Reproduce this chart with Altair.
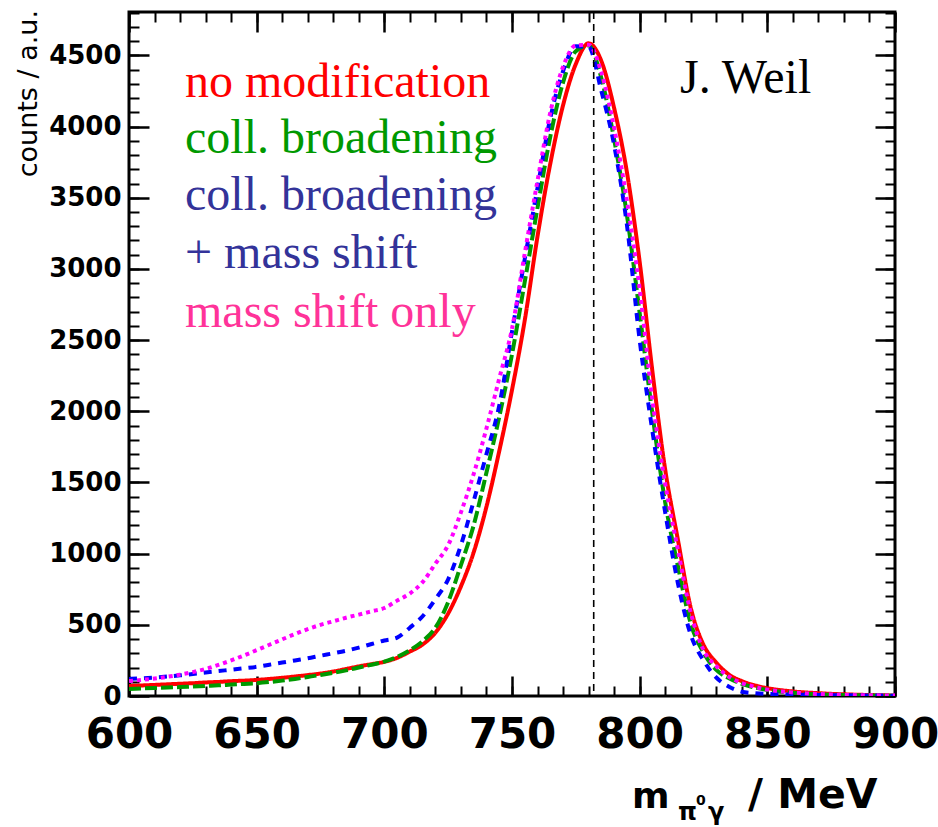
import altair as alt
import pandas as pd

# ---- data (counts per 5 MeV grid point) ----
mass = list(range(600, 901, 5))

no_modification = [70, 74, 78, 82, 86, 90, 95, 99, 104, 108,
                   113, 120, 128, 137, 147, 158, 172, 190, 208, 224,
                   240, 268, 312, 362, 445, 580, 770, 1010, 1330, 1720,
                   2150, 2640, 3230, 3740, 4150, 4440, 4585, 4460, 4130, 3680,
                   3050, 2280, 1590, 1095, 620, 360, 235, 150, 105, 75,
                   55, 42, 32, 25, 20, 15, 12, 9, 7, 5, 4]

coll_broadening = [50, 53, 56, 60, 63, 67, 71, 75, 80, 85,
                   90, 98, 108, 120, 133, 148, 163, 180, 200, 220,
                   242, 275, 322, 385, 480, 660, 920, 1200, 1570, 1960,
                   2400, 2910, 3430, 3930, 4310, 4530, 4570, 4340, 3910, 3380,
                   2690, 1980, 1360, 910, 510, 305, 183, 125, 85, 60,
                   42, 30, 22, 16, 12, 9, 7, 5, 4, 3, 2]

coll_broadening_mass_shift = [120, 124, 130, 137, 145, 155, 165, 175, 185, 195,
                              205, 220, 235, 250, 265, 283, 300, 318, 340, 365,
                              390, 410, 480, 560, 680, 820, 1060, 1370, 1700, 2040,
                              2560, 3070, 3570, 4060, 4390, 4565, 4560, 4250, 3870, 3310,
                              2500, 1860, 1290, 790, 430, 250, 130, 65, 30, 20,
                              15, 12, 10, 8, 7, 6, 5, 4, 3, 3, 2]

mass_shift_only = [105, 113, 123, 135, 150, 168, 190, 218, 250, 285,
                   322, 360, 398, 435, 470, 500, 525, 550, 572, 595,
                   618, 670, 720, 800, 930, 1060, 1290, 1560, 1880, 2230,
                   2580, 3110, 3620, 4100, 4420, 4570, 4575, 4380, 3990, 3480,
                   2860, 2080, 1490, 1025, 585, 323, 210, 135, 91, 65,
                   45, 33, 25, 19, 14, 11, 8, 6, 5, 4, 3]

series_values = [no_modification, coll_broadening, coll_broadening_mass_shift, mass_shift_only]
line_colors = ["#ff0000", "#009900", "#0000ff", "#ff00ff"]
line_dashes = [[1, 0], [12, 4], [8, 7], [4, 4]]

legend_lines = ["no modification", "coll. broadening", "coll. broadening", "+ mass shift", "mass shift only"]
legend_colors = ["#ff0000", "#009900", "#333399", "#333399", "#ff3399"]

omega_mass = [782]

x_major = list(range(600, 901, 50))
x_minor = list(range(600, 901, 10))
y_major = list(range(0, 4501, 500))
y_minor = list(range(0, 4801, 100))

W, H = 766, 684
xs = alt.Scale(domain=[600, 900], nice=False, zero=False)
ys = alt.Scale(domain=[0, 4805], nice=False, zero=False)


def tick_axis(orient, values, size, labels, font_size=27, pad=8):
    kw = dict(orient=orient, values=values, tickSize=size, offset=-size,
              domain=False, grid=False, labels=labels, title=None,
              tickColor="black", tickWidth=2.5 if size > 12 else 2)
    if labels:
        kw.update(labelFont="DejaVu Sans", labelFontWeight="bold",
                  labelFontSize=font_size, labelColor="black", format="d",
                  labelPadding=pad, labelFlush=False, labelOverlap=False)
    return alt.Axis(**kw)


axes_pairs = [
    (tick_axis("bottom", x_major, 20, True, 42, 18), tick_axis("left", y_major, 20, True, 26, 8)),
    (tick_axis("bottom", x_minor, 10, False), tick_axis("left", y_minor, 10, False)),
    (tick_axis("top", x_major, 20, False), tick_axis("right", y_major, 20, False)),
    (tick_axis("top", x_minor, 10, False), tick_axis("right", y_minor, 10, False)),
]

layers = []
for vals, color, dash, (ax_x, ax_y) in zip(series_values, line_colors, line_dashes, axes_pairs):
    df = pd.DataFrame({"m": mass, "c": vals})
    layers.append(
        alt.Chart(df).mark_line(color=color, strokeDash=dash, strokeWidth=4,
                                clip=True, interpolate="monotone").encode(
            x=alt.X("m:Q", scale=xs, axis=ax_x),
            y=alt.Y("c:Q", scale=ys, axis=ax_y),
        )
    )

# dashed line at the nominal omega mass
layers.append(
    alt.Chart(pd.DataFrame({"m": omega_mass})).mark_rule(
        color="black", strokeWidth=1.6, strokeDash=[7, 5]).encode(
        x=alt.X("m:Q", scale=xs, axis=None))
)

one = pd.DataFrame({"a": [0]})


def label(text, x, y, **kw):
    return alt.Chart(one).mark_text(text=text, align="left", baseline="alphabetic", **kw).encode(
        x=alt.value(x), y=alt.value(y))


legend_baselines = [85, 141, 198, 256, 315]
for txt, col, yb in zip(legend_lines, legend_colors, legend_baselines):
    layers.append(label(txt, 56, yb, font="Liberation Serif", fontSize=48, color=col))

layers.append(label("J. Weil", 551, 81, font="Liberation Serif", fontSize=48, color="black"))

# x-axis title: m_{pi0 gamma} / MeV
layers.append(label("m", 503, 796, font="DejaVu Sans", fontSize=36, fontWeight="bold", color="black"))
layers.append(label("π", 549, 808, font="DejaVu Sans", fontSize=24, fontWeight="bold", color="black"))
layers.append(label("0", 567, 793, font="DejaVu Sans", fontSize=14, fontWeight="bold", color="black"))
layers.append(label("γ", 579, 808, font="DejaVu Sans", fontSize=24, fontWeight="bold", color="black"))
layers.append(label("/ MeV", 619, 796, font="DejaVu Sans", fontSize=41, fontWeight="bold", color="black"))

# y-axis title
layers.append(
    alt.Chart(one).mark_text(text="counts / a.u.", align="right", baseline="alphabetic",
                             angle=270, font="DejaVu Sans", fontSize=27, color="black").encode(
        x=alt.value(-92), y=alt.value(-2))
)

chart = alt.layer(*layers).resolve_scale(x="independent", y="independent").properties(
    width=W, height=H,
    padding={"left": 129, "top": 12, "right": 43, "bottom": 131},
    autosize=alt.AutoSizeParams(type="none"),
).configure_view(stroke="black", strokeWidth=3)

chart.save("out.html", embed_options={"renderer": "svg", "actions": False})
